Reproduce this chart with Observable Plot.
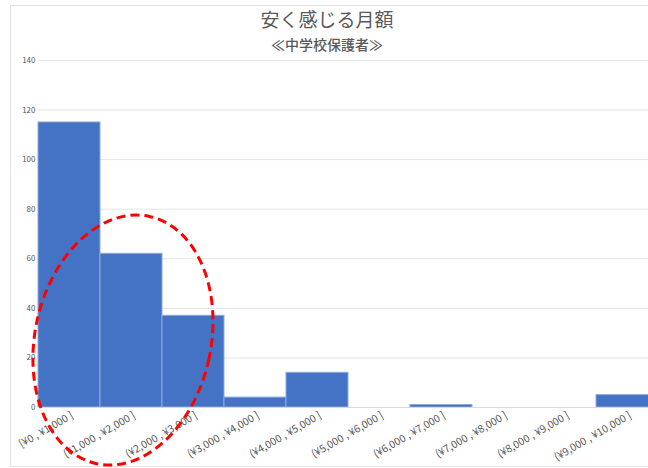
<!DOCTYPE html>
<html><head><meta charset="utf-8">
<script src="https://cdn.jsdelivr.net/npm/d3@7"></script>
<script src="https://cdn.jsdelivr.net/npm/@observablehq/plot@0.6"></script>
<style>
body{margin:0;background:#fff;}
#wrap{position:relative;width:648px;height:468px;overflow:hidden;font-family:"Noto Sans CJK JP","Noto Sans",sans-serif;}
#frame{position:absolute;left:10px;top:5px;width:700px;height:460px;border:1px solid #e3e3e3;}
#title{position:absolute;left:0;width:654px;top:6px;text-align:center;font-size:19px;color:#595959;line-height:26px;}
#sub{position:absolute;left:0;width:654px;top:34px;text-align:center;font-size:14px;font-weight:500;color:#595959;line-height:20px;}
#chart{position:absolute;left:0;top:52px;width:658px;}
#chart svg{max-width:none !important;}
</style></head>
<body><div id="wrap"><div id="frame"></div><div id="title">安く感じる月額</div><div id="sub">≪中学校保護者≫</div><div id="chart"></div></div>
<script>
const bins = ["[¥0 , ¥1,000 ]","(¥1,000 , ¥2,000 ]","(¥2,000 , ¥3,000 ]","(¥3,000 , ¥4,000 ]","(¥4,000 , ¥5,000 ]","(¥5,000 , ¥6,000 ]","(¥6,000 , ¥7,000 ]","(¥7,000 , ¥8,000 ]","(¥8,000 , ¥9,000 ]","(¥9,000 , ¥10,000 ]"];
const counts = [115, 62, 37, 4, 14, 0, 1, 0, 0, 5];
const yTicks = [0, 20, 40, 60, 80, 100, 120, 140];

const data = bins.map((b, i) => ({bin: b, count: counts[i]}));

const chart = Plot.plot({
  width: 658, height: 416,
  marginLeft: 38, marginRight: 0, marginTop: 8, marginBottom: 61,
  style: {fontFamily: '"Noto Sans CJK JP","Noto Sans",sans-serif', background: "transparent", maxWidth: "none"},
  x: {domain: bins, padding: 0, label: null},
  y: {domain: [0, 140], label: null},
  marks: [
    Plot.gridY(yTicks, {stroke: "#e4e4e4", strokeOpacity: 1}),
    Plot.barY(data, {x: "bin", y: "count", fill: "#4472C4", stroke: "#8eaadb", strokeWidth: 1}),
    Plot.axisY({ticks: yTicks, tickSize: 0, tickPadding: 3, fontSize: 8, fill: "#595959"}),
    Plot.axisX({tickSize: 0, tickRotate: -30, tickPadding: 7, dx: 3, fontSize: 10.5, fill: "#595959"}),
    Plot.ruleY([0], {stroke: "#d9d9d9"})
  ]
});
document.getElementById("chart").appendChild(chart);

// red dashed annotation ellipse around bins 1-3
const xs = chart.scale("x"), ys = chart.scale("y");
const cx = xs.apply(bins[1]) + xs.bandwidth * 0.37;
const cy = ys.apply(27);
const rx = xs.bandwidth * 1.42;
const ry = ys.apply(0) - ys.apply(51);
d3.select(chart).append("ellipse")
  .attr("cx", cx).attr("cy", cy).attr("rx", rx).attr("ry", ry)
  .attr("transform", `rotate(12 ${cx} ${cy})`)
  .attr("fill", "none").attr("stroke", "#ff0000").attr("stroke-width", 3)
  .attr("stroke-dasharray", "9 5");
</script></body></html>
